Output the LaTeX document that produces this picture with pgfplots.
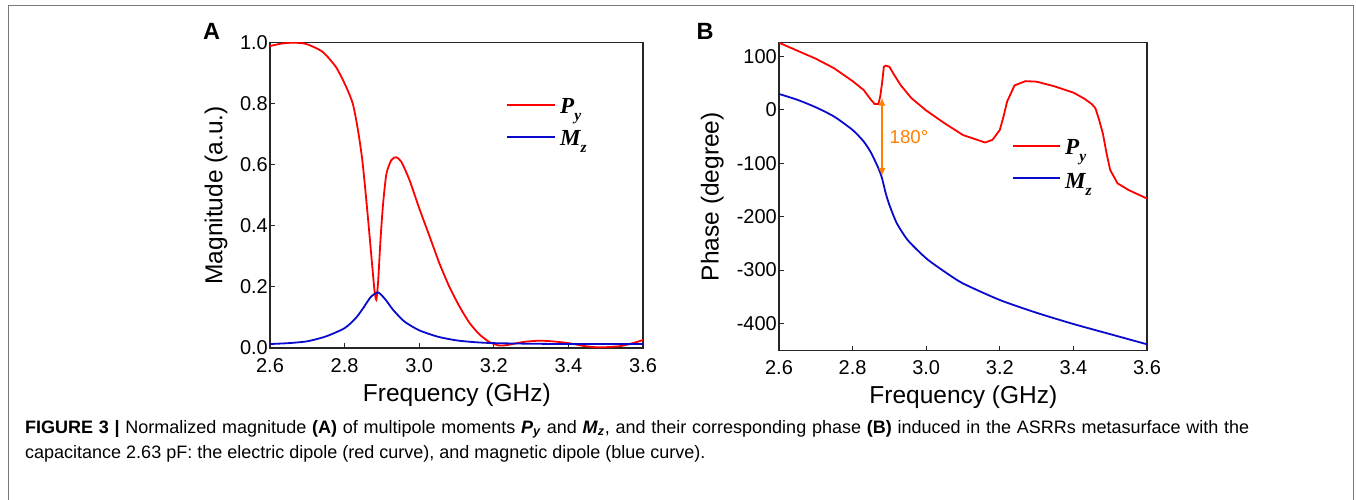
\documentclass[border=0pt]{standalone}
\usepackage{fontspec}
\setmainfont{Liberation Sans}
\newfontfamily\tms{Liberation Serif}
\usepackage{pgfplots}
\pgfplotsset{compat=1.18}
\usetikzlibrary{arrows.meta}

\definecolor{cred}{RGB}{255,0,0}
\definecolor{cblue}{RGB}{10,10,205}
\definecolor{corange}{RGB}{255,128,0}
\definecolor{frame}{RGB}{120,120,120}

\newcommand{\tickfont}{\fontsize{20bp}{21bp}\selectfont}
\newcommand{\labfont}{\fontsize{24.5bp}{26bp}\selectfont}
\newcommand{\legfont}{\fontsize{23bp}{24bp}\selectfont\tms\bfseries\itshape}
\newcommand{\capfont}{\fontsize{18bp}{25bp}\selectfont}
\newcommand{\lsub}[1]{\raisebox{-0.32em}{\fontsize{15.5bp}{15bp}\selectfont #1}}

\pgfplotsset{
  panel/.style={
    scale only axis,
    axis line style={black!85, line width=1.2bp},
    tick style={black!85, line width=1bp},
    major tick length=5bp,
    tick align=inside,
    tick pos=left,
    xmin=2.6, xmax=3.6,
    xtick={2.6,2.8,3.0,3.2,3.4,3.6},
    xticklabels={2.6,2.8,3.0,3.2,3.4,3.6},
    tick label style={font=\tickfont, black, inner sep=1bp},
    x tick label style={yshift=-9bp},
    y tick label style={xshift=-1bp},
    label style={font=\labfont},
    xlabel={Frequency (GHz)},
  }
}

\begin{document}
\begin{tikzpicture}
\useasboundingbox (0,0) rectangle (1356bp,-500bp);
\fill[white] (0,0) rectangle (1356bp,-500bp);
\draw[frame, line width=1bp] (8bp,-500bp) -- (8bp,-5bp) -- (1353bp,-5bp) -- (1353bp,-500bp);

% panel A: magnitude
\begin{axis}[panel,
  at={(270bp,-348bp)}, anchor=south west,
  width=373bp, height=305.3bp,
  ymin=0, ymax=1,
  ytick={0,0.2,0.4,0.6,0.8,1.0},
  yticklabels={0.0,0.2,0.4,0.6,0.8,1.0},
  ylabel={Magnitude (a.u.)},
  ylabel style={at={(axis description cs:-0.145,0.5)}, anchor=center},
  xlabel style={at={(axis description cs:0.501,-0.154)}, anchor=center},
]
\addplot[cred, line width=1.8bp, smooth, tension=0.4] coordinates {
  (2.600,0.989) (2.630,0.997) (2.661,1.000) (2.697,0.996) (2.741,0.970)
  (2.777,0.920) (2.804,0.856) (2.822,0.800) (2.835,0.720) (2.847,0.620)
  (2.857,0.500) (2.866,0.380) (2.874,0.270) (2.880,0.190) (2.885,0.158)
  (2.890,0.220) (2.896,0.350) (2.903,0.470) (2.912,0.570) (2.925,0.615)
  (2.938,0.625) (2.952,0.610) (2.974,0.550) (3.000,0.458) (3.028,0.365)
  (3.054,0.278) (3.081,0.200) (3.108,0.136) (3.135,0.082) (3.162,0.044)
  (3.189,0.019) (3.215,0.008) (3.242,0.011) (3.280,0.020) (3.324,0.024)
  (3.365,0.021) (3.405,0.015) (3.445,0.006) (3.485,0.002) (3.538,0.006)
  (3.570,0.015) (3.600,0.026)
};
\addplot[cblue, line width=1.8bp, smooth, tension=0.4] coordinates {
  (2.60,0.013) (2.65,0.016) (2.70,0.022) (2.75,0.038) (2.80,0.065)
  (2.83,0.098) (2.85,0.131) (2.87,0.167) (2.89,0.182) (2.91,0.158)
  (2.93,0.125) (2.96,0.087) (3.00,0.058) (3.05,0.037) (3.10,0.025)
  (3.15,0.019) (3.20,0.016) (3.30,0.014) (3.40,0.013) (3.60,0.013)
};
\end{axis}

% panel B: phase
\begin{axis}[panel,
  at={(779bp,-350.7bp)}, anchor=south west,
  width=368bp, height=308bp,
  ymin=-451, ymax=126,
  ytick={-400,-300,-200,-100,0,100},
  yticklabels={-400,-300,-200,-100,0,100},
  ylabel={Phase (degree)},
  ylabel style={at={(axis description cs:-0.181,0.5)}, anchor=center},
  xlabel style={at={(axis description cs:0.501,-0.150)}, anchor=center},
]
\addplot[cred, line width=1.8bp] coordinates {
  (2.600,126) (2.650,111) (2.700,96) (2.750,78) (2.800,54) (2.830,37.5)
  (2.850,19) (2.860,11) (2.870,11) (2.875,25) (2.880,50) (2.885,81)
  (2.890,83) (2.900,81) (2.910,69) (2.930,47) (2.960,22) (3.000,-1)
  (3.050,-25) (3.100,-47) (3.160,-61) (3.180,-56) (3.200,-37.5) (3.210,-12.5)
  (3.220,16) (3.240,46) (3.270,54) (3.300,53) (3.350,44) (3.400,32.5)
  (3.430,21) (3.450,11) (3.460,3) (3.470,-19) (3.480,-44) (3.490,-81)
  (3.500,-112.5) (3.520,-137.5) (3.550,-150) (3.600,-166)
};
\addplot[cblue, line width=1.8bp, smooth, tension=0.4] coordinates {
  (2.60,30) (2.65,19) (2.70,5) (2.75,-12.5) (2.80,-37.5) (2.83,-59)
  (2.85,-80) (2.87,-109) (2.88,-128) (2.89,-156) (2.90,-178) (2.92,-212)
  (2.95,-244) (3.00,-278) (3.05,-303) (3.10,-325) (3.20,-356) (3.30,-380)
  (3.40,-401) (3.50,-420) (3.60,-439)
};
\draw[corange, line width=1.5bp, {Latex[length=8bp,width=7bp]}-{Latex[length=8bp,width=7bp]}]
  (axis cs:2.88,23) -- (axis cs:2.88,-124);
\node[corange, anchor=west, font=\fontsize{18.7bp}{20bp}\selectfont, inner sep=0] at (axis cs:2.90,-51) {180°};
\end{axis}

% panel letters
\node[font=\fontsize{23.5bp}{24bp}\selectfont\bfseries] at (211.5bp,-31.5bp) {A};
\node[font=\fontsize{23.5bp}{24bp}\selectfont\bfseries] at (705bp,-31.5bp) {B};

% legend A
\draw[cred, line width=1.8bp] (507bp,-105bp) -- (555bp,-105bp);
\draw[cblue, line width=1.8bp] (507bp,-137bp) -- (555bp,-137bp);
\node[anchor=base west, inner sep=0, font=\legfont] at (560bp,-113.3bp) {P\lsub{y}};
\node[anchor=base west, inner sep=0, font=\legfont] at (560bp,-145bp) {M\lsub{z}};

% legend B
\draw[cred, line width=1.8bp] (1013bp,-145.7bp) -- (1060bp,-145.7bp);
\draw[cblue, line width=1.8bp] (1013bp,-178bp) -- (1060bp,-178bp);
\node[anchor=base west, inner sep=0, font=\legfont] at (1065bp,-154bp) {P\lsub{y}};
\node[anchor=base west, inner sep=0, font=\legfont] at (1065bp,-188bp) {M\lsub{z}};

% caption
\node[anchor=base west, inner sep=0, font=\capfont] at (25bp,-433bp)
  {\hbox to 1224bp{\textbf{FIGURE 3 |} Normalized magnitude \textbf{(A)} of multipole moments \textbf{\textit{P}\textsubscript{\textit{y}}} and \textbf{\textit{M}\textsubscript{\textit{z}}}, and their corresponding phase \textbf{(B)} induced in the ASRRs metasurface with the}};
\node[anchor=base west, inner sep=0, font=\capfont] at (25bp,-458bp)
  {capacitance 2.63 pF: the electric dipole (red curve), and magnetic dipole (blue curve).};
\end{tikzpicture}
\end{document}
